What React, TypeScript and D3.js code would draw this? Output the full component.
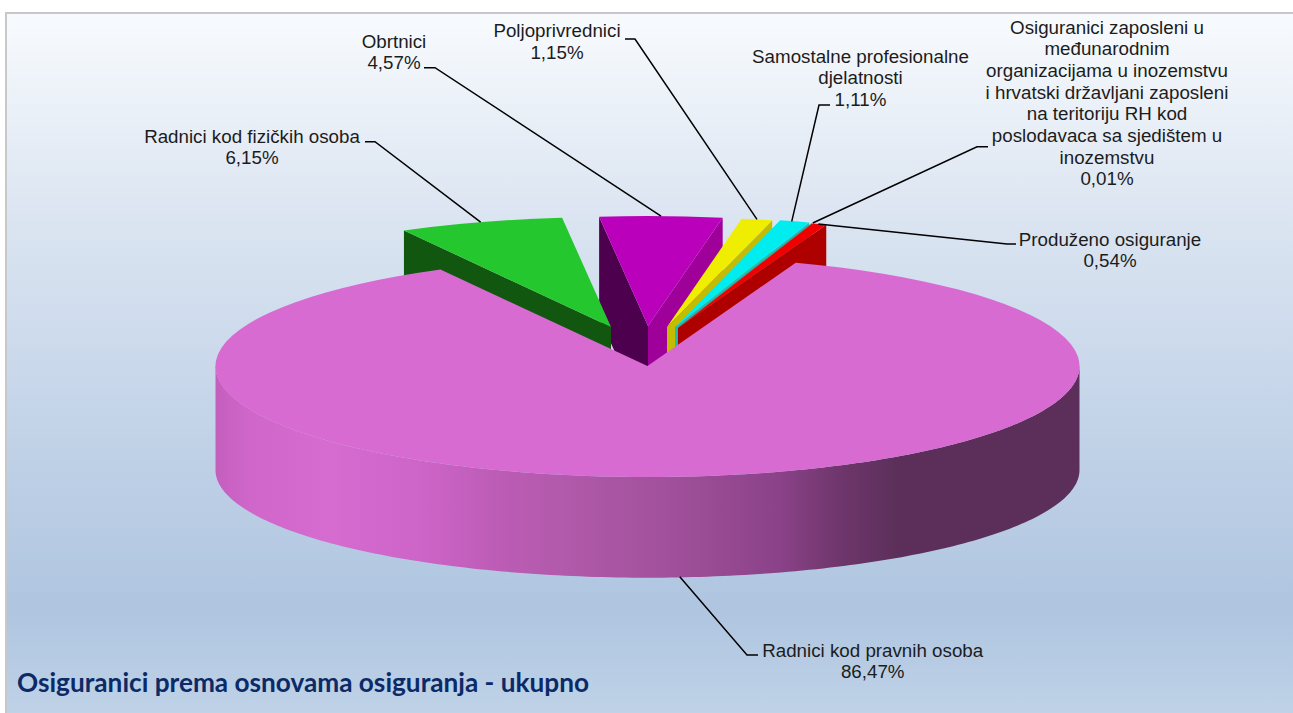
import React from "react";
import * as d3 from "d3";

// data
const categories = [
  "Radnici kod pravnih osoba",
  "Radnici kod fizičkih osoba",
  "Obrtnici",
  "Poljoprivrednici",
  "Samostalne profesionalne djelatnosti",
  "Osiguranici zaposleni u međunarodnim organizacijama",
  "Produženo osiguranje",
];
const shares = [86.47, 6.15, 4.57, 1.15, 1.11, 0.01, 0.54];
const shareLabels = ["86,47%", "6,15%", "4,57%", "1,15%", "1,11%", "0,01%", "0,54%"];
const labelLines = [
  ["Radnici kod pravnih osoba", "86,47%"],
  ["Radnici kod fizičkih osoba", "6,15%"],
  ["Obrtnici", "4,57%"],
  ["Poljoprivrednici", "1,15%"],
  ["Samostalne profesionalne", "djelatnosti", "1,11%"],
  [
    "Osiguranici zaposleni u",
    "međunarodnim",
    "organizacijama u inozemstvu",
    "i hrvatski državljani zaposleni",
    "na teritoriju RH kod",
    "poslodavaca sa sjedištem u",
    "inozemstvu",
    "0,01%",
  ],
  ["Produženo osiguranje", "0,54%"],
];

// layout, per slice, same order as the data
const topColors = ["#D76BD1", "#25C72E", "#BA00BA", "#EFEE00", "#00EDF0", "#4F8F80", "#F00000"];
const startWallColors = ["none", "#11570F", "#4D004D", "none", "none", "none", "none"];
const endWallColors = ["none", "none", "#A0009A", "#C4BC00", "#1FBCBC", "#5F8F70", "#AF0000"];
const explode: [number, number][] = [[0, 0], [-36.5, -39], [0.5, -40], [19.5, -39], [27.5, -39], [30, -38.5], [30.5, -38]];
const labelX = [872.7, 252, 394, 557, 860.5, 1107, 1110];
const labelY = [656.5, 142.5, 47.5, 37, 62.5, 33.5, 245.5];
const lineStep = [21.5, 21.5, 21.5, 22, 21.7, 21.7, 21.5];
const elbows: [number, number][][] = [
  [[758, 655], [747, 655]],
  [[365, 141.7], [375, 141.7]],
  [[424, 67.7], [435, 67.7]],
  [[625, 39], [635, 39]],
  [[830, 105], [819, 105]],
  [[988, 146.7], [977, 146.7]],
  [[1016, 244], [1007, 244]],
];
const anchorNudge = [0, 0, 0, 0, -3, 1, -1];
const drawOrder = [2, 1, 3, 4, 5, 6, 0];

const cx = 647.5;
const cy = 366;
const rx = 432;
const ry = 110;
const ryFront = 111; // near half of the pie looks a bit deeper in the original
const depth = 100;
const startAngle = (20.07 * Math.PI) / 180;

const slices = d3.pie<number>().sort(null).startAngle(startAngle).endAngle(startAngle + 2 * Math.PI)(shares);
const arcGen = d3.arc<d3.PieArcDatum<number>>().innerRadius(0).outerRadius(rx);
const line = d3.line();

// d3 pie angles: 0 at the top, clockwise
function project(a: number, ox = 0, oy = 0, yr = ry): [number, number] {
  return [cx + ox + rx * Math.sin(a), cy + oy - yr * Math.cos(a)];
}
const signed = (a: number) => Math.atan2(Math.sin(a), Math.cos(a));

function cutWall(a: number, i: number) {
  const [ox, oy] = explode[i];
  const apex: [number, number] = [cx + ox, cy + oy];
  const tip = project(a, ox, oy);
  return line([apex, tip, [tip[0], tip[1] + depth], [apex[0], apex[1] + depth]]) + "Z";
}

const frontAngles = d3.range(90, 270.5, 1).map((d) => (d * Math.PI) / 180);
const frontWall =
  line([
    ...frontAngles.map((a) => project(a, 0, 0, ryFront)),
    ...frontAngles.slice().reverse().map((a) => project(a, 0, depth + 4, 107.7)),
  ]) + "Z";
const frontFace = line(frontAngles.map((a) => project(a, 0, 0, ryFront))) + "Z";

const wallStops: [number, string][] = [
  [215, "#C45FBE"],
  [250, "#D066CA"],
  [330, "#D66BD0"],
  [420, "#CD64C8"],
  [500, "#BC5CB5"],
  [560, "#B25AAB"],
  [680, "#9F4F99"],
  [780, "#8A4288"],
  [840, "#6E366B"],
  [900, "#5B2F5A"],
  [1079, "#5B2F5A"],
];
const wallX = d3.scaleLinear().domain([215, 1079]).range([0, 1]);

const bgStops: [number, string][] = [
  [13, "#F8FBFE"],
  [200, "#DDE6F2"],
  [400, "#C5D5E9"],
  [600, "#AFC5E0"],
  [713, "#C0D3E8"],
];
const bgY = d3.scaleLinear().domain([13, 713]).range([0, 1]);

export default function App() {
  return (
    <svg
      width={1293}
      height={713}
      style={{ position: "absolute", left: 0, top: 0, display: "block" }}
      role="img"
      aria-label={categories.map((c, i) => c + " " + shareLabels[i]).join(", ")}
    >
      <defs>
        <linearGradient id="bg" x1="0" y1="0" x2="0" y2="1">
          {bgStops.map(([y, c]) => (
            <stop key={y} offset={bgY(y)} stopColor={c} />
          ))}
        </linearGradient>
        <linearGradient id="wall" x1="0" y1="0" x2="1" y2="0">
          {wallStops.map(([x, c]) => (
            <stop key={x} offset={wallX(x)} stopColor={c} />
          ))}
        </linearGradient>
      </defs>
      <rect x={6} y={13} width={1290} height={710} fill="url(#bg)" stroke="#C8C8C8" strokeWidth={2} />

      {drawOrder.map((i) => {
        const s = slices[i];
        const [ox, oy] = explode[i];
        return (
          <g key={i}>
            {i === 0 && <path d={frontWall} fill="url(#wall)" />}
            {startWallColors[i] !== "none" && signed(s.startAngle) < 0 && (
              <path d={cutWall(s.startAngle, i)} fill={startWallColors[i]} />
            )}
            {endWallColors[i] !== "none" && signed(s.endAngle) > 0 && (
              <path d={cutWall(s.endAngle, i)} fill={endWallColors[i]} />
            )}
            <path
              d={arcGen(s) as string}
              fill={topColors[i]}
              transform={`translate(${cx + ox},${cy + oy}) scale(1,${ry / rx})`}
            />
            {i === 0 && <path d={frontFace} fill={topColors[0]} />}
          </g>
        );
      })}

      {slices.map((s, i) => {
        const [ox, oy] = explode[i];
        const mid = (s.startAngle + s.endAngle) / 2;
        const p = project(mid, ox + anchorNudge[i], oy);
        // the big slice is pointed at from its front wall
        const anchor: [number, number] = i === 0 ? [p[0], p[1] + depth + 1] : p;
        return (
          <path
            key={i}
            d={line([...elbows[i], anchor]) as string}
            fill="none"
            stroke="#000"
            strokeWidth={1.5}
          />
        );
      })}

      <g fontFamily="'Liberation Sans', Arial, sans-serif" fontSize={18.75} fill="#1C1C1C" textAnchor="middle">
        {labelLines.map((lines, i) => (
          <text key={i} x={labelX[i]} y={labelY[i]}>
            {lines.map((t, j) => (
              <tspan key={j} x={labelX[i]} y={labelY[i] + j * lineStep[i]}>
                {t}
              </tspan>
            ))}
          </text>
        ))}
      </g>

      <text x={17} y={692} fontFamily="Lato, 'Open Sans', sans-serif" fontWeight={700} fontSize={26.2} fill="#0B2A66">
        Osiguranici prema osnovama osiguranja - ukupno
      </text>
    </svg>
  );
}
